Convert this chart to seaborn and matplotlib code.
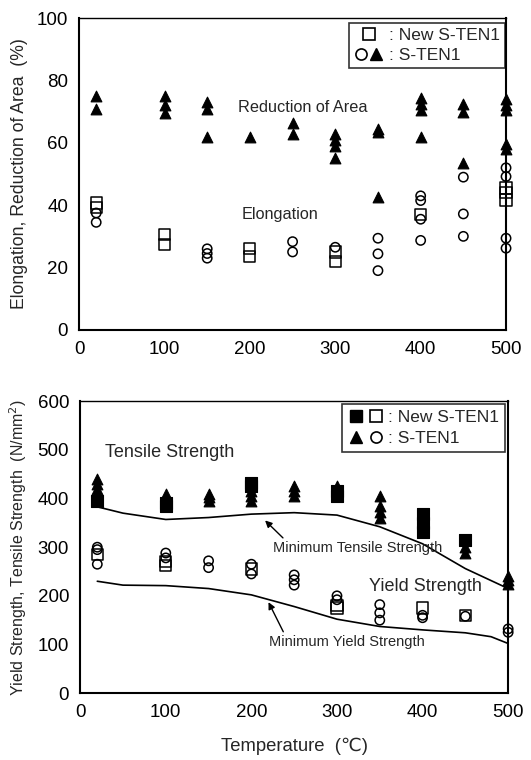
import matplotlib
matplotlib.use("Agg")
import matplotlib.pyplot as plt
from matplotlib.lines import Line2D
from matplotlib.legend_handler import HandlerTuple
from matplotlib.ticker import MultipleLocator
import seaborn as sns
import pandas as pd

# ---------------- data (top: elongation / reduction of area) ----------------
ra_tri_x = [20, 20, 100, 100, 100, 150, 150, 150, 200, 250, 250, 300, 300, 300, 300,
            350, 350, 350, 400, 400, 400, 400, 450, 450, 450, 500, 500, 500, 500, 500]
ra_tri_y = [75, 71, 75, 72, 69.5, 73, 71, 62, 62, 66.5, 63, 63, 61, 59, 55,
            64.5, 63.5, 42.5, 74.5, 72.5, 70.5, 62, 72.5, 70, 53.5, 74, 72, 70.5, 59.5, 58]
el_sq_x = [20, 20, 100, 100, 200, 200, 300, 300, 400, 500, 500, 500]
el_sq_y = [40.7, 39.2, 30.5, 27.5, 26, 23.5, 25, 22, 37, 45.5, 44, 41.7]
el_ci_x = [20, 20, 150, 150, 150, 250, 250, 300, 350, 350, 350, 400, 400, 400, 400,
           450, 450, 450, 500, 500, 500, 500]
el_ci_y = [37.5, 34.5, 26, 24.5, 23, 28.3, 25, 26.5, 29.4, 24.4, 19, 43, 41.5, 35.5, 28.7,
           49, 37.2, 30, 52, 49.2, 29.4, 26.2]

# ---------------- data (bottom: yield / tensile strength) ----------------
ts_sq_x = [20, 100, 100, 200, 200, 300, 300, 400, 400, 400, 450]
ts_sq_y = [395, 390, 385, 433, 425, 415, 405, 368, 350, 332, 315]
ts_tri_x = [20, 20, 20, 20, 20, 100, 100, 100, 150, 150, 150, 200, 200, 200,
            250, 250, 250, 300, 350, 350, 350, 350, 400, 450, 450, 500, 500, 500]
ts_tri_y = [440, 430, 420, 410, 402, 410, 402, 395, 410, 403, 396, 415, 405, 395,
            425, 415, 405, 425, 405, 385, 372, 360, 340, 300, 288, 240, 232, 225]
ys_sq_x = [20, 100, 100, 200, 300, 300, 400, 450]
ys_sq_y = [285, 270, 262, 255, 180, 175, 175, 160]
ys_ci_x = [20, 20, 20, 100, 100, 150, 150, 200, 200, 250, 250, 250, 300, 300,
           350, 350, 350, 400, 400, 450, 500, 500]
ys_ci_y = [300, 295, 265, 288, 278, 272, 258, 265, 245, 243, 233, 222, 200, 192,
           182, 165, 150, 160, 155, 158, 132, 125]

# minimum curves (read points)
min_ts_x = [20, 50, 100, 150, 200, 250, 300, 350, 400, 450, 500]
min_ts_y = [383, 370, 357, 361, 368, 371, 366, 342, 307, 256, 215]
min_ys_x = [20, 50, 100, 150, 200, 250, 300, 350, 400, 450, 480, 500]
min_ys_y = [230, 222, 221, 215, 202, 178, 152, 137, 130, 124, 116, 102]

x_ticks = [0, 100, 200, 300, 400, 500]

sns.set_style("white")
plt.rcParams['font.family'] = ['Liberation Sans', 'DejaVu Sans']

fig = plt.figure(figsize=(5.31, 7.60), dpi=100)
ax1 = fig.add_axes([0.149, 0.566, 0.804, 0.410])
ax2 = fig.add_axes([0.151, 0.088, 0.806, 0.384])

K = "black"
fs_tick = 13.5
fs_lab = 12.7
fs_leg = 12.5


def scat(ax, x, y, marker, filled, size):
    df = pd.DataFrame({"x": x, "y": y})
    if filled:
        sns.scatterplot(data=df, x="x", y="y", ax=ax, marker=marker, s=size,
                        color=K, edgecolor=K, linewidth=0.8, zorder=3, clip_on=False)
    else:
        sns.scatterplot(data=df, x="x", y="y", ax=ax, marker=marker, s=size,
                        facecolor="none", edgecolor=K, linewidth=1.1, zorder=3,
                        clip_on=False)


# ---------- top ----------
scat(ax1, ra_tri_x, ra_tri_y, "^", True, 60)
scat(ax1, el_ci_x, el_ci_y, "o", False, 45)
scat(ax1, el_sq_x, el_sq_y, "s", False, 65)
ax1.set_xlim(0, 500)
ax1.set_ylim(0, 100)
ax1.set_xticks(x_ticks)
ax1.set_yticks([0, 20, 40, 60, 80, 100])
ax1.xaxis.set_minor_locator(MultipleLocator(50))
ax1.yaxis.set_minor_locator(MultipleLocator(10))
ax1.set_xlabel("")
ax1.set_ylabel("Elongation, Reduction of Area  (%)", fontsize=fs_lab, labelpad=6)
ax1.text(186, 71.5, "Reduction of Area", fontsize=11.7, va="center", ha="left")
ax1.text(190, 37, "Elongation", fontsize=11.7, va="center", ha="left")

h_sq = Line2D([], [], ls="none", marker="s", ms=8, mfc="none", mec=K, mew=1.2)
h_ci = Line2D([], [], ls="none", marker="o", ms=8, mfc="none", mec=K, mew=1.2)
h_tr = Line2D([], [], ls="none", marker="^", ms=8.5, mfc=K, mec=K)
leg1 = ax1.legend([h_sq, (h_ci, h_tr)], [": New S-TEN1", ": S-TEN1"],
                  handler_map={tuple: HandlerTuple(ndivide=None, pad=0.1)},
                  loc="upper right", bbox_to_anchor=(0.997, 0.985), fontsize=fs_leg,
                  frameon=True, fancybox=False, edgecolor=K, borderpad=0.3,
                  handlelength=1.7, handletextpad=0.3, labelspacing=0.25,
                  borderaxespad=0.0, markerfirst=True)
leg1.get_frame().set_linewidth(1.2)

# ---------- bottom ----------
sns.lineplot(x=min_ts_x, y=min_ts_y, ax=ax2, color=K, lw=1.2, zorder=2)
sns.lineplot(x=min_ys_x, y=min_ys_y, ax=ax2, color=K, lw=1.2, zorder=2)
scat(ax2, ts_tri_x, ts_tri_y, "^", True, 60)
scat(ax2, ts_sq_x, ts_sq_y, "s", True, 75)
scat(ax2, ys_ci_x, ys_ci_y, "o", False, 45)
scat(ax2, ys_sq_x, ys_sq_y, "s", False, 65)
ax2.set_xlim(0, 500)
ax2.set_ylim(0, 600)
ax2.set_xticks(x_ticks)
ax2.set_yticks([0, 100, 200, 300, 400, 500, 600])
ax2.xaxis.set_minor_locator(MultipleLocator(50))
ax2.yaxis.set_minor_locator(MultipleLocator(50))
ax2.set_xlabel("Temperature  (\u2103)", fontsize=13.3, labelpad=12)
ax2.set_ylabel("Yield Strength, Tensile Strength  (N/mm$^2$)", fontsize=11.5, labelpad=6)
ax2.text(29, 495, "Tensile Strength", fontsize=13, va="center", ha="left")
ax2.text(338, 219, "Yield Strength", fontsize=13, va="center", ha="left")
ax2.annotate("Minimum Tensile Strength", xy=(216, 355), xytext=(225, 298),
             fontsize=10.5, va="center", ha="left",
             arrowprops=dict(arrowstyle="-|>", color=K, lw=1.0, shrinkA=0, shrinkB=0,
                             mutation_scale=10, relpos=(0.08, 1.0)))
ax2.annotate("Minimum Yield Strength", xy=(220, 187), xytext=(221, 105),
             fontsize=10.5, va="center", ha="left",
             arrowprops=dict(arrowstyle="-|>", color=K, lw=1.0, shrinkA=0, shrinkB=0,
                             mutation_scale=10, relpos=(0.1, 1.0)))

h_fs = Line2D([], [], ls="none", marker="s", ms=8, mfc=K, mec=K)
leg2 = ax2.legend([(h_fs, h_sq), (h_tr, h_ci)], [": New S-TEN1", ": S-TEN1"],
                  handler_map={tuple: HandlerTuple(ndivide=None, pad=0.3)},
                  loc="upper right", bbox_to_anchor=(0.993, 0.99), fontsize=fs_leg,
                  frameon=True, fancybox=False, edgecolor=K, borderpad=0.35,
                  handlelength=2.0, handletextpad=0.3, labelspacing=0.3,
                  borderaxespad=0.0)
leg2.get_frame().set_linewidth(1.2)

for ax in (ax1, ax2):
    ax.tick_params(axis="both", which="both", direction="in", colors=K,
                   labelsize=fs_tick, pad=8)
    ax.tick_params(which="major", length=4, width=1)
    ax.tick_params(which="minor", length=3, width=0.8)
    for sp in ax.spines.values():
        sp.set_color(K)
        sp.set_linewidth(1.0)
    ax.spines["left"].set_linewidth(1.5)
    ax.spines["bottom"].set_linewidth(1.5)
    ax.spines["right"].set_linewidth(1.5)
    ax.grid(False)

fig.savefig("out.png", dpi=100)
